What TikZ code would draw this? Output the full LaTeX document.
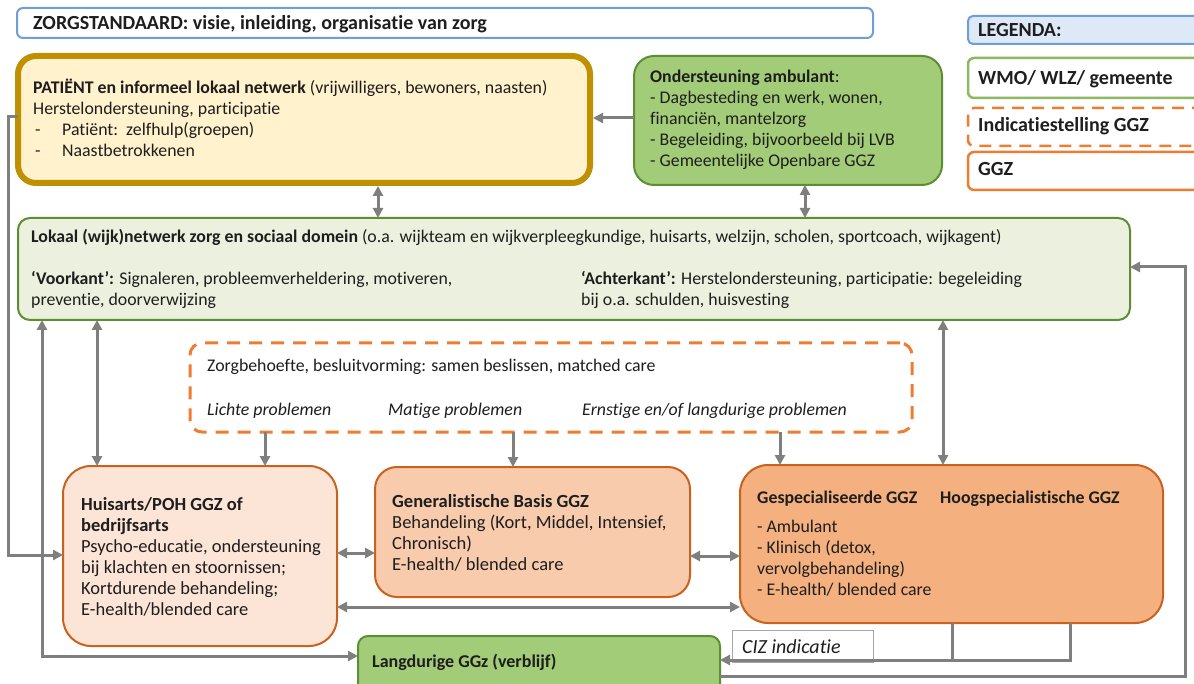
\documentclass[tikz,border=0pt]{standalone}
\usepackage{fontspec}
\setmainfont{Carlito}[Ligatures=NoCommon]
\usetikzlibrary{arrows.meta}
\definecolor{txt}{HTML}{1E1E1E}
\definecolor{patfill}{HTML}{FFF2CC}
\definecolor{patdraw}{HTML}{BF9000}
\definecolor{grn}{HTML}{A3CC78}
\definecolor{grndraw}{HTML}{5E8E34}
\definecolor{lokfill}{HTML}{EBF1DE}
\definecolor{lgtgrn}{HTML}{8DB860}
\definecolor{orgdraw}{HTML}{C8621E}
\definecolor{hua}{HTML}{FCE5D6}
\definecolor{gen}{HTML}{F8CBAD}
\definecolor{gsp}{HTML}{F4B07E}
\definecolor{blu}{HTML}{6F9FD8}
\definecolor{blufill}{HTML}{DDE9F6}
\definecolor{org}{HTML}{ED7D31}
\definecolor{con}{HTML}{7F7F7F}
\newcommand\myfs{\fontsize{17.8}{21}\selectfont}
\newcommand\mybig{\fontsize{20}{24}\selectfont}
\begin{document}
\begin{tikzpicture}[x=1pt,y=-1pt,
  box/.style={draw, rectangle, inner sep=0pt, outer sep=0pt},
  tx/.style={anchor=north west, inner sep=0pt, align=left, font=\myfs, text=txt},
  tl/.style={anchor=base west, inner sep=0pt, font=\myfs, text=txt},
  cn/.style={draw=con, line width=3pt},
  a1/.style={cn, -{Triangle[length=10pt,width=10pt]}},
  a2/.style={cn, {Triangle[length=10pt,width=10pt]}-{Triangle[length=10pt,width=10pt]}},
]
\useasboundingbox (0,0) rectangle (1194,684);
\clip (0,0) rectangle (1194,684);
\fill[white] (0,0) rectangle (1194,684);

% header
\node[box, draw=blu, line width=2pt, fill=white, rounded corners=6pt, minimum width=856, minimum height=30] (hdr) at (445,23) {};
\node[tl, font=\mybig\bfseries] (hdrT) at (33,29.5) {ZORGSTANDAARD: visie, inleiding, organisatie van zorg};

% legend
\node[box, draw=blu, line width=2pt, fill=blufill, rounded corners=5pt, minimum width=242, minimum height=28] (leg) at (1089,30) {};
\node[tl, font=\mybig\bfseries] (legT) at (978,37) {LEGENDA:};
\node[box, draw=lgtgrn, line width=2.5pt, fill=white, rounded corners=6pt, minimum width=242, minimum height=40] (wmo) at (1089,78) {};
\node[tl, font=\mybig\bfseries] (wmoT) at (978,85) {WMO/ WLZ/ gemeente};
\node[box, draw=org, line width=2.5pt, dash pattern=on 12pt off 8pt, fill=white, rounded corners=6pt, minimum width=242, minimum height=38] (ind) at (1089,127) {};
\node[tl, font=\mybig\bfseries] (indT) at (978,132) {Indicatiestelling GGZ};
\node[box, draw=org, line width=2.5pt, fill=white, rounded corners=6pt, minimum width=242, minimum height=38] (ggz) at (1089,171) {};
\node[tl, font=\mybig\bfseries] (ggzT) at (978,176) {GGZ};

% patient
\node[box, draw=patdraw, line width=6pt, fill=patfill, rounded corners=18pt, minimum width=572, minimum height=127] (pat) at (304,119.5) {};
\node[tx] (patT) at (33,79) {\strut\textbf{PATIËNT en informeel lokaal netwerk} (vrijwilligers, bewoners, naasten)\\
Herstelondersteuning, participatie\\
\hspace*{2pt}\makebox[27pt][l]{-}Patiënt:\ \ zelfhulp(groepen)\\
\hspace*{2pt}\makebox[27pt][l]{-}Naastbetrokkenen};

% ondersteuning
\node[box, draw=grndraw, line width=2pt, fill=grn, rounded corners=20pt, minimum width=308, minimum height=129] (ond) at (788,120.5) {};
\node[tx] (ondT) at (650,68) {\strut\textbf{Ondersteuning ambulant}:\\
- Dagbesteding en werk, wonen,\\
financiën, mantelzorg\\
- Begeleiding, bijvoorbeeld bij LVB\\
- Gemeentelijke Openbare GGZ};

% lokaal
\node[box, draw=grndraw, line width=2pt, fill=lokfill, rounded corners=12pt, minimum width=1112, minimum height=102] (lok) at (574,269) {};
\node[tl] (lokT1) at (31,243) {\textbf{Lokaal (wijk)netwerk zorg en sociaal domein} (o.a. wijkteam en wijkverpleegkundige, huisarts, welzijn, scholen, sportcoach, wijkagent)};
\node[tx] (lokT2) at (31,270) {\strut\textbf{‘Voorkant’:} Signaleren, probleemverheldering, motiveren,\\preventie, doorverwijzing};
\node[tx] (lokT3) at (581,270) {\strut\textbf{‘Achterkant’:} Herstelondersteuning, participatie: begeleiding\\bij o.a. schulden, huisvesting};

% dashed zorgbehoefte
\node[box, draw=org, line width=3pt, dash pattern=on 13pt off 9pt, fill=white, rounded corners=12pt, minimum width=722, minimum height=89] (dsh) at (551,387.5) {};
\node[tl] (dshT1) at (207,372) {Zorgbehoefte, besluitvorming: samen beslissen, matched care};
\node[tl, font=\myfs\itshape] (dshT2) at (207,415) {Lichte problemen};
\node[tl, font=\myfs\itshape] (dshT3) at (388,415) {Matige problemen};
\node[tl, font=\myfs\itshape] (dshT4) at (582,415) {Ernstige en/of langdurige problemen};

% huisarts
\node[box, draw=orgdraw, line width=2pt, fill=hua, rounded corners=28pt, minimum width=274, minimum height=180] (hua) at (200,556) {};
\node[tx, font=\fontsize{18.5}{21}\selectfont] (huaT) at (81,496) {\strut\textbf{Huisarts/POH GGZ of}\\
\textbf{bedrijfsarts}\\
Psycho-educatie, ondersteuning\\
bij klachten en stoornissen;\\
Kortdurende behandeling;\\
E-health/blended care};

% generalistische
\node[box, draw=orgdraw, line width=2pt, fill=gen, rounded corners=22pt, minimum width=315, minimum height=130] (gen) at (532.5,532) {};
\node[tx, font=\fontsize{18.5}{21}\selectfont] (genT) at (392,493) {\strut\textbf{Generalistische Basis GGZ}\\
Behandeling (Kort, Middel, Intensief,\\
Chronisch)\\
E-health/ blended care};

% gespecialiseerde
\node[box, draw=orgdraw, line width=2pt, fill=gsp, rounded corners=28pt, minimum width=423, minimum height=158] (gsp) at (951.5,544) {};
\node[tl, font=\myfs\bfseries] (gspT1) at (757,503) {Gespecialiseerde GGZ};
\node[tl, font=\myfs\bfseries] (gspT2) at (940,503) {Hoogspecialistische GGZ};
\node[tx] (gspT3) at (757,518) {\strut- Ambulant\\
- Klinisch (detox,\\
vervolgbehandeling)\\
- E-health/ blended care};

% langdurige
\node[box, draw=grndraw, line width=2pt, fill=grn, rounded corners=10pt, minimum width=362, minimum height=64] (lng) at (539,668) {};
\node[tl, font=\fontsize{18}{22}\selectfont\bfseries] (lngT) at (372,667) {Langdurige GGz (verblijf)};

% CIZ
\node[box, draw=black!35, line width=1pt, fill=white, minimum width=141, minimum height=32] (ciz) at (802.5,646) {};
\node[tl, font=\mybig\itshape] (cizT) at (742,653) {CIZ indicatie};

% coordinates
\coordinate (L1) at (8,117);
\coordinate (L1b) at (8,555);
\coordinate (L2) at (42,656);
\coordinate (X97) at (97,0);
\coordinate (X378) at (378,0);
\coordinate (X805) at (805,0);
\coordinate (Y118) at (0,118);
\coordinate (X265) at (265,0);
\coordinate (X513) at (513,0);
\coordinate (X780) at (780,0);
\coordinate (X943) at (943,0);
\coordinate (Y553) at (0,553);
\coordinate (Y556) at (0,556);
\coordinate (Y607) at (0,607);
\coordinate (B1) at (952,660);
\coordinate (B2) at (1070,660);
\coordinate (R1) at (1185,676);
\coordinate (R2) at (1185,267);

% connectors
\draw[a1] (pat.west |- L1) -- (L1) -- (L1b) -- (hua.west |- L1b);
\draw[a2] (lok.south -| L2) -- (L2) -- (lng.west |- L2);
\draw[a2] (lok.south -| X97) -- (hua.north -| X97);
\draw[a2] ([yshift=-3pt]pat.south -| X378) -- (lok.north -| X378);
\draw[a2] (ond.south -| X805) -- (lok.north -| X805);
\draw[a1] (ond.west |- Y118) -- ([xshift=3pt]pat.east |- Y118);
\draw[a1] (dsh.south -| X265) -- (hua.north -| X265);
\draw[a1] (dsh.south -| X513) -- (gen.north -| X513);
\draw[a1] (dsh.south -| X780) -- (gsp.north -| X780);
\draw[a2] (lok.south -| X943) -- (gsp.north -| X943);
\draw[a2] (hua.east |- Y553) -- (gen.west |- Y553);
\draw[a2] (gen.east |- Y556) -- (gsp.west |- Y556);
\draw[a2] (hua.east |- Y607) -- (gsp.west |- Y607);
\draw[cn] (gsp.south -| B1) -- (B1);
\draw[a1] (gsp.south -| B2) -- (B2) -- (lng.east |- B2);
\draw[a1] (lng.east |- R1) -- (R1) -- (R2) -- (lok.east |- R2);
\end{tikzpicture}
\end{document}
